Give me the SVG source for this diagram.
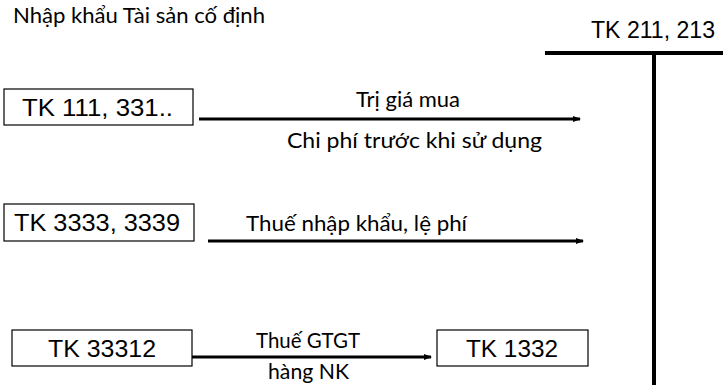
<svg xmlns="http://www.w3.org/2000/svg" width="723" height="385" viewBox="0 0 723 385">
  <defs>
    <style>
      .box { fill: #fff; stroke: #000; stroke-width: 1.2; }
      .acct { font-family: "Liberation Sans", Arial, sans-serif; font-size: 24px; fill: #000; }
      .lbl { font-family: Lato, "Open Sans", sans-serif; font-size: 21px; fill: #000; }
      .flow { stroke: #000; stroke-width: 3; fill: none; marker-end: url(#arr); }
      .tline { stroke: #000; stroke-width: 4; fill: none; }
    </style>
    <marker id="arr" viewBox="0 0 8 6" refX="7" refY="3" markerWidth="8" markerHeight="6" markerUnits="userSpaceOnUse" orient="auto">
      <path d="M0,0 L8,3 L0,6 z" fill="#000"/>
    </marker>
  </defs>

  <text class="lbl" x="13" y="23" textLength="252" lengthAdjust="spacingAndGlyphs">Nhập khẩu Tài sản cố định</text>

  <!-- T-account for fixed assets -->
  <g id="tk211">
    <text class="acct" x="591" y="38" font-size="22.5" textLength="124" lengthAdjust="spacingAndGlyphs">TK 211, 213</text>
    <line class="tline" x1="545" y1="53" x2="723" y2="53"/>
    <line class="tline" x1="654" y1="53" x2="654" y2="385"/>
  </g>

  <g id="tk111">
    <rect class="box" x="4" y="89" width="189" height="36"/>
    <text class="acct" x="22" y="116" textLength="151" lengthAdjust="spacingAndGlyphs">TK 111, 331..</text>
  </g>

  <g id="tk3333">
    <rect class="box" x="4" y="204" width="190" height="37"/>
    <text class="acct" x="14" y="231" textLength="166" lengthAdjust="spacingAndGlyphs">TK 3333, 3339</text>
  </g>

  <g id="tk33312">
    <rect class="box" x="12" y="330" width="180" height="36"/>
    <text class="acct" x="48" y="357" textLength="108" lengthAdjust="spacingAndGlyphs">TK 33312</text>
  </g>

  <g id="tk1332">
    <rect class="box" x="437" y="330" width="151" height="36"/>
    <text class="acct" x="466" y="357" textLength="92" lengthAdjust="spacingAndGlyphs">TK 1332</text>
  </g>

  <g id="connectors">
    <line class="flow" x1="199" y1="119" x2="580" y2="119"/>
    <text class="lbl" x="356" y="107" textLength="104" lengthAdjust="spacingAndGlyphs">Trị giá mua</text>
    <text class="lbl" x="287" y="148" textLength="255" lengthAdjust="spacingAndGlyphs">Chi phí trước khi sử dụng</text>

    <line class="flow" x1="208" y1="241" x2="583" y2="241"/>
    <text class="lbl" x="246" y="231" textLength="221" lengthAdjust="spacingAndGlyphs">Thuế nhập khẩu, lệ phí</text>

    <line class="flow" x1="192" y1="357" x2="431" y2="357"/>
    <text class="lbl" x="256" y="348" font-size="22.5" textLength="104" lengthAdjust="spacingAndGlyphs">Thuế GTGT</text>
    <text class="lbl" x="268" y="379" font-size="22.5" textLength="81" lengthAdjust="spacingAndGlyphs">hàng NK</text>
  </g>
</svg>
